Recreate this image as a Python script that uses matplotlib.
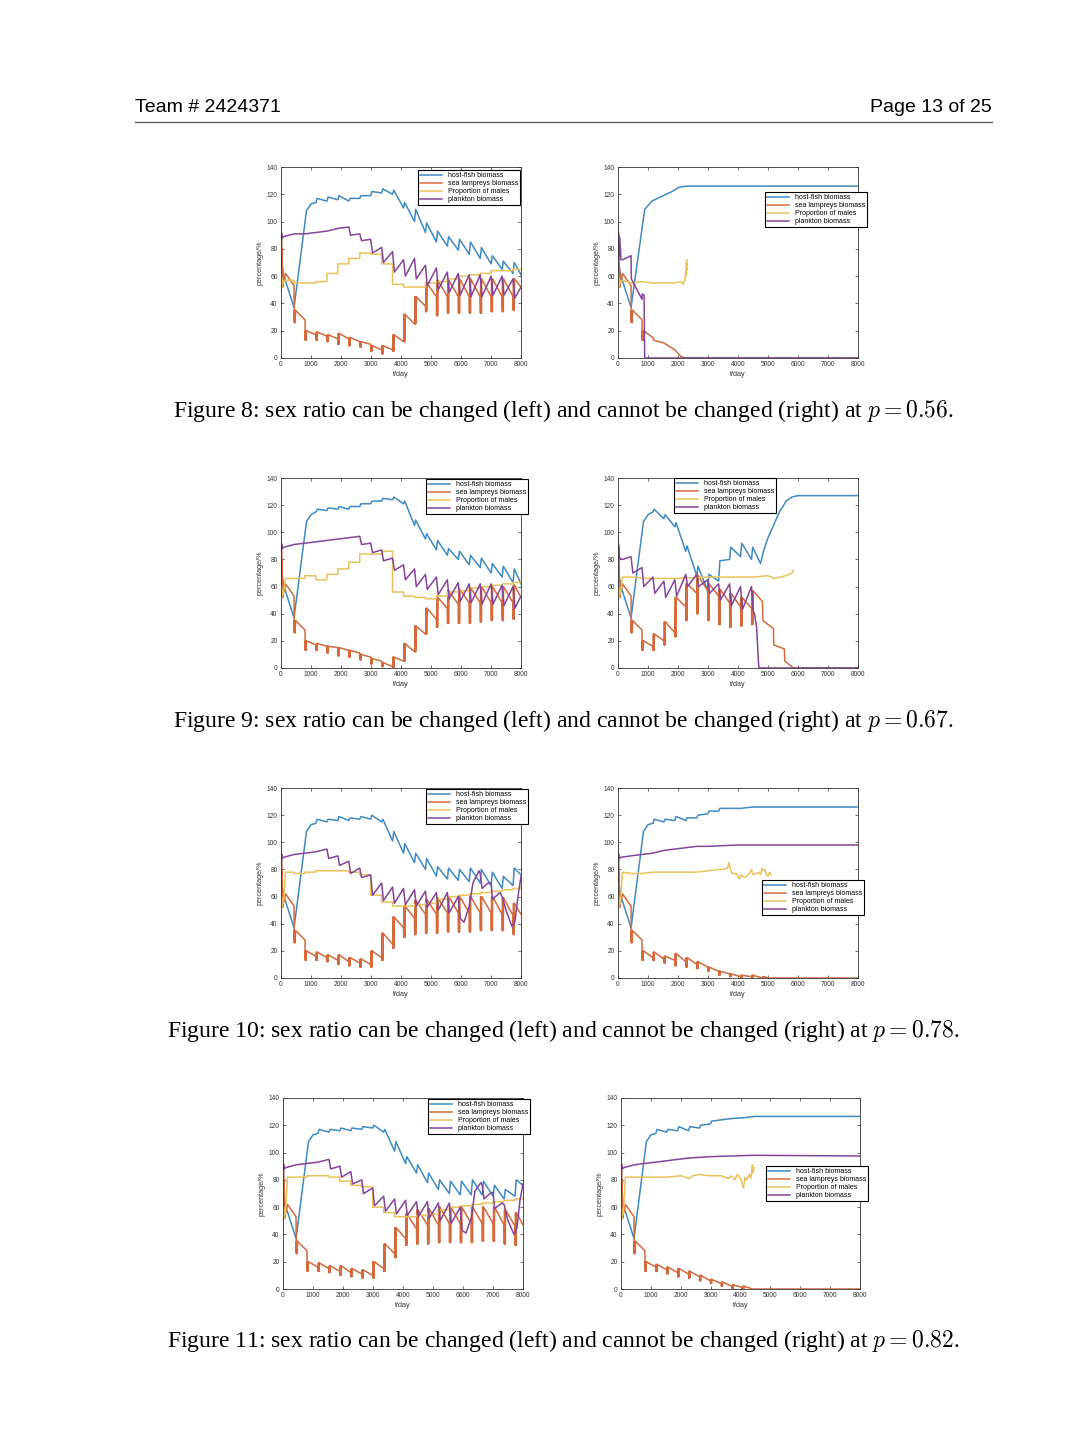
import numpy as np
import matplotlib.pyplot as plt
from matplotlib.lines import Line2D

plt.rcParams['font.family'] = ['Liberation Sans', 'DejaVu Sans']
plt.rcParams['mathtext.fontset'] = 'cm'

# ------------------------------------------------------------------
# values (t in days, values in percent)
# ------------------------------------------------------------------

# days where the yearly teeth sit
MARKS = [435, 800, 1165, 1530, 1895, 2260, 2625, 2990, 3355, 3720, 4085,
         4450, 4815, 5180, 5545, 5910, 6275, 6640, 7005, 7370, 7735]

LABELS = ['host-fish biomass', 'sea lampreys biomass',
          'Proportion of males', 'plankton biomass']
COLORS = ['#3f8ac2', '#d4693c', '#e9c25c', '#84449a']

# first weeks, the same in every run
BLUE_HEAD_T = [0, 25, 70, 435, 850, 1000]
BLUE_HEAD_V = [97, 72, 62, 37, 108, 113]
LAMP_HEAD_T = [0, 8, 16, 24, 32, 40, 50, 60, 75, 100, 150]
LAMP_HEAD_V = [97, 50, 92, 55, 80, 52, 65, 52, 60, 56, 62]
MALE_HEAD_T = [0, 8, 16, 24, 32, 45, 60, 80]
MALE_HEAD_V = [62, 50, 60, 52, 58, 54, 57, 55]
PLANK_HEAD_T = [0, 10, 20, 40, 100]
PLANK_HEAD_V = [90, 86, 91, 88, 89]
# male proportion level days for the left runs (150, MARKS..., 8000)
STEP_T = [150] + MARKS + [8000]

# ---- Figure 8 left ----
a_blue_pre = [114, 115, 116, 115, 117, 119, 121, 120, 110, 100, 92, 85, 82, 79, 76, 73, 69, 65, 62]
a_blue_post = [117, 118, 119, 117, 119, 122, 124, 123, 114, 109, 99, 93, 89, 87, 85, 81, 75, 71, 70]
a_blue_end = 61
a_lamp_pre = [53, 28, 17, 16, 14, 14, 12, 10, 6, 6, 12, 25, 38, 45, 45, 45, 45, 45, 45, 45, 45]
a_lamp_low = [26, 13, 13, 12, 10, 9, 8, 5, 3, 5, 12, 25, 34, 31, 33, 33, 33, 33, 34, 34, 35]
a_lamp_post = [35, 20, 19, 17, 18, 15, 12, 9, 9, 17, 32, 45, 55, 57, 57, 58, 58, 58, 58, 58, 58]
a_lamp_end = 52
a_male = [57, 55, 55, 56, 62, 69, 73, 77, 76, 69, 54, 52, 52, 55, 56, 58, 60, 61, 62, 64, 64, 65, 65]
a_plank_t = [435, 800, 1165, 1530, 1895]
a_plank_v = [91, 91, 92, 93, 95]
a_plank_pre = [96, 91, 87, 81, 78, 72, 73, 68, 66, 63, 62, 61, 61, 60, 60, 58]
a_plank_post = [90, 86, 77, 70, 63, 60, 58, 53, 50, 48, 46, 45, 45, 46, 46, 44]
a_plank_end = 52

# ---- Figure 8 right ----
b_blue_t = [0, 25, 70, 435, 890, 1130, 1410, 1800, 2020, 2250, 8000]
b_blue_v = [97, 72, 62, 37, 109, 115, 118, 122, 125, 126, 126]
b_lamp_pre = [53, 28]
b_lamp_low = [26, 13]
b_lamp_post = [35, 20]
b_lamp_tail_t = [1165, 1200, 1530, 1895, 2100, 2250, 8000]
b_lamp_tail_v = [15, 13, 11, 6, 1, 0, 0]
b_male_t = [150, 435, 800, 1165, 1530, 1895, 2100, 2180, 2230, 2260, 2270, 2280, 2290, 2300]
b_male_v = [57, 55, 56, 55, 55, 55, 56, 54, 58, 63, 60, 70, 64, 72]
b_plank_t = [0, 10, 20, 40, 60, 100, 150, 435, 445, 800, 810, 870, 890, 8000]
b_plank_v = [92, 72, 90, 75, 88, 72, 72, 75, 58, 43, 47, 46, 0, 0]

# ---- Figure 9 left ----
c_blue_pre = [115, 116, 117, 117, 119, 121, 123, 124, 121, 105, 95, 87, 83, 80, 76, 74, 70, 67, 63]
c_blue_post = [117, 118, 119, 119, 121, 123, 125, 126, 123, 109, 99, 94, 88, 86, 83, 81, 77, 75, 73]
c_blue_end = 62
c_lamp_pre = [53, 28, 17, 16, 15, 13, 11, 8, 5, 1, 5, 12, 25, 36, 44, 47, 48, 48, 48, 48, 48]
c_lamp_low = [26, 13, 13, 11, 9, 8, 6, 3, 1, 0, 5, 12, 25, 30, 33, 33, 33, 34, 35, 35, 36]
c_lamp_post = [35, 20, 18, 16, 15, 13, 10, 7, 4, 8, 18, 31, 44, 52, 57, 58, 59, 60, 60, 60, 61]
c_lamp_end = 52
c_male = [66, 66, 68, 65, 69, 73, 78, 84, 84, 86, 56, 53, 52, 51, 53, 56, 57, 59, 60, 61, 62, 63, 64]
c_plank_t = [435, 800, 1165, 1530, 1895, 2260]
c_plank_v = [91, 92, 93, 94, 95, 96]
c_plank_pre = [97, 92, 87, 81, 76, 73, 69, 67, 65, 63, 62, 62, 62, 61, 60]
c_plank_post = [91, 85, 79, 72, 65, 60, 58, 54, 51, 49, 48, 47, 47, 46, 44]
c_plank_end = 53

# ---- Figure 9 right ----
d_blue_t = [0, 25, 70, 435, 850, 1000, 1165, 1205, 1530, 1570, 1895, 1935, 2260, 2300,
            2625, 2665, 2990, 3030, 3355, 3395, 3720, 3760, 4085, 4125, 4450, 4490,
            4750, 4850, 5000, 5200, 5400, 5500, 5600, 5800, 6000, 8000]
d_blue_v = [97, 72, 62, 37, 108, 113, 115, 117, 110, 113, 104, 107, 86, 90,
            68, 75, 57, 69, 64, 79, 80, 89, 82, 92, 80, 89,
            77, 86, 96, 106, 116, 119, 123, 126, 127, 127]
d_lamp_pre = [53, 28, 16, 20, 26, 45, 55, 57, 53, 48, 45, 44]
d_lamp_low = [26, 13, 13, 17, 23, 35, 40, 35, 32, 30, 31, 32]
d_lamp_post = [35, 20, 25, 34, 52, 62, 68, 62, 58, 55, 52, 57]
d_lamp_tail_t = [4815, 4830, 5180, 5195, 5545, 5560, 5850, 8000]
d_lamp_tail_v = [49, 35, 29, 17, 14, 5, 0, 0]
d_male_t = [150, 435, 1000, 2000, 3000, 3500, 4000, 4500, 5000, 5200, 5400, 5600, 5700, 5800, 5850]
d_male_v = [67, 67, 66, 66, 67, 67, 67, 67, 68, 66, 67, 68, 69, 70, 72]
d_plank_t = [0, 10, 20, 40, 100, 150]
d_plank_v = [92, 80, 90, 82, 80, 80]
d_plank_pre = [82, 74, 67, 64, 65, 69, 69, 65, 62, 62, 60, 60]
d_plank_post = [70, 60, 55, 52, 53, 60, 60, 55, 50, 46, 43, 42]
d_plank_tail_t = [4550, 4620, 4680, 4700, 8000]
d_plank_tail_v = [40, 30, 5, 0, 0]

# ---- Figure 10 left ----
e_blue_pre = [114, 115, 116, 116, 117, 117, 115, 101, 92, 85, 80, 75, 73, 72, 71, 70, 68, 66, 68]
e_blue_post = [117, 117, 119, 118, 119, 120, 117, 108, 99, 92, 88, 82, 81, 80, 81, 80, 78, 75, 81]
e_blue_end = 76
e_lamp_pre = [53, 28, 16, 15, 13, 12, 11, 10, 15, 25, 37, 44, 47, 47, 48, 48, 48, 48, 48, 47, 46]
e_lamp_low = [26, 13, 13, 12, 10, 9, 8, 8, 13, 22, 30, 32, 33, 33, 34, 34, 34, 35, 35, 35, 32]
e_lamp_post = [35, 20, 19, 17, 17, 15, 14, 20, 33, 45, 53, 57, 58, 59, 60, 60, 60, 60, 60, 59, 55]
e_lamp_end = 47
e_male = [78, 77, 78, 79, 79, 79, 78, 76, 61, 56, 53, 53, 54, 55, 58, 60, 61, 62, 63, 64, 65, 66, 67]
e_plank_t = [435, 800, 1165]
e_plank_v = [91, 92, 93]
e_plank_pre = [95, 90, 86, 81, 76, 70, 67, 66, 65, 64, 63, 63, 60]
e_plank_post = [88, 83, 77, 74, 61, 57, 55, 54, 53, 52, 50, 48, 44]
e_plank_tail_t = [6100, 6275, 6400, 6600, 6640, 6700, 6900, 7005, 7050, 7300, 7370, 7500, 7700, 7800, 7900, 8000]
e_plank_tail_v = [41, 53, 70, 79, 77, 66, 70, 70, 58, 63, 60, 50, 38, 42, 60, 75]

# ---- Figure 10 right ----
f_blue_t = [0, 25, 70, 435, 850, 1000, 1165, 1205, 1530, 1570, 1895, 1935, 2260, 2300,
            2625, 2665, 2990, 3030, 3355, 3395, 3720, 4085, 4500, 5000, 8000]
f_blue_v = [97, 72, 62, 37, 108, 113, 114, 117, 115, 117, 116, 119, 116, 118,
            118, 120, 121, 123, 123, 125, 125, 125, 126, 126, 126]
f_lamp_pre = [53, 28, 15, 14, 13, 12, 10, 8, 5, 3, 1, 1, 0]
f_lamp_low = [26, 13, 13, 11, 9, 8, 7, 5, 2, 1, 0, 0, 0]
f_lamp_post = [35, 20, 19, 16, 18, 15, 12, 8, 5, 3, 2, 2, 1]
f_lamp_tail_t = [5000, 8000]
f_lamp_tail_v = [0, 0]
f_male_t = [150, 435, 800, 1165, 1600, 2000, 2625, 3000, 3355, 3500, 3650, 3700, 3750, 3800, 3950,
            4050, 4100, 4200, 4300, 4400, 4450, 4500, 4600, 4700, 4750, 4800, 4850, 4900, 4950,
            5000, 5050, 5100]
f_male_v = [78, 77, 77, 78, 78, 78, 78, 79, 80, 80, 81, 85, 80, 77, 77,
            73, 76, 74, 75, 78, 80, 76, 77, 78, 76, 81, 79, 80, 76,
            75, 78, 76]
f_plank_t = [0, 10, 20, 40, 100, 435, 800, 1165, 1530, 1895, 2260, 2625, 3000, 4000, 5000, 8000]
f_plank_v = [90, 86, 91, 88, 89, 90, 91, 92, 94, 95, 96, 97, 97, 98, 98, 98]

# ---- Figure 11 left ----
g_blue_pre = [114, 115, 116, 116, 117, 118, 115, 101, 92, 85, 78, 73, 70, 69, 69, 69, 68, 66, 68]
g_blue_post = [117, 117, 118, 118, 119, 120, 117, 108, 97, 91, 85, 80, 79, 79, 80, 79, 76, 73, 80]
g_blue_end = 76
g_lamp_pre = [53, 28, 16, 15, 13, 12, 11, 10, 15, 26, 37, 44, 47, 47, 48, 48, 48, 48, 48, 47, 46]
g_lamp_low = [26, 13, 13, 12, 10, 9, 8, 8, 13, 23, 32, 33, 33, 34, 34, 34, 34, 35, 35, 33, 32]
g_lamp_post = [35, 20, 19, 17, 17, 15, 14, 20, 33, 45, 55, 58, 59, 60, 60, 60, 60, 60, 60, 58, 56]
g_lamp_end = 47
g_male = [82, 82, 83, 83, 82, 79, 76, 75, 60, 56, 53, 53, 54, 55, 58, 60, 61, 62, 63, 64, 65, 66, 67]
g_plank_t = [435, 800, 1165]
g_plank_v = [91, 92, 93]
g_plank_pre = [95, 90, 86, 80, 74, 68, 66, 65, 64, 64, 63, 63, 60]
g_plank_post = [88, 82, 77, 70, 61, 57, 55, 54, 53, 52, 50, 48, 43]
g_plank_tail_t = [6100, 6275, 6400, 6600, 6640, 6700, 6900, 7005, 7050, 7300, 7370, 7500, 7700, 7800, 7900, 8000]
g_plank_tail_v = [41, 52, 72, 78, 76, 66, 70, 71, 59, 63, 62, 50, 40, 45, 65, 77]

# ---- Figure 11 right ----
h_blue_t = [0, 25, 70, 435, 850, 1000, 1165, 1205, 1530, 1570, 1895, 1935, 2260, 2300,
            2625, 2665, 2990, 3030, 3355, 3720, 4085, 4500, 8000]
h_blue_v = [97, 72, 62, 37, 108, 113, 114, 117, 115, 117, 116, 119, 116, 119,
            118, 120, 121, 123, 124, 125, 125.5, 126.5, 126.5]
h_lamp_pre = [53, 28, 16, 14, 12, 11, 9, 6, 4, 2, 1]
h_lamp_low = [26, 13, 13, 11, 9, 8, 6, 4, 2, 0, 0]
h_lamp_post = [35, 20, 18, 16, 15, 13, 10, 7, 5, 3, 2]
h_lamp_tail_t = [4400, 8000]
h_lamp_tail_v = [0, 0]
h_male_t = [150, 435, 800, 1165, 1530, 2000, 2300, 2400, 2600, 3000, 3355, 3600, 3700, 3800,
            3900, 4000, 4100, 4150, 4200, 4300, 4350, 4400, 4420, 4450]
h_male_v = [82, 82, 82, 82, 82, 83, 81, 83, 84, 83, 83, 81, 83, 80,
            84, 81, 74, 82, 80, 84, 81, 91, 85, 89]
h_plank_t = [0, 10, 20, 40, 100, 435, 800, 1530, 2260, 3000, 4400, 8000]
h_plank_v = [90, 86, 91, 88, 89, 91, 92, 94, 96, 97, 98, 97.5]

CAPTIONS = [
    'Figure 8: sex ratio can be changed (left) and cannot be changed (right) at $p = 0.56$.',
    'Figure 9: sex ratio can be changed (left) and cannot be changed (right) at $p = 0.67$.',
    'Figure 10: sex ratio can be changed (left) and cannot be changed (right) at $p = 0.78$.',
    'Figure 11: sex ratio can be changed (left) and cannot be changed (right) at $p = 0.82$.',
]


# ------------------------------------------------------------------
# helpers that turn the read values into polylines
# ------------------------------------------------------------------
def teeth(marks, pre, post, low=None, lag=40):
    # one tooth per yearly mark: value just before -> value just after
    t, v = [], []
    for i, m in enumerate(marks):
        if low is None:
            t += [m, m + lag]
            v += [pre[i], post[i]]
        else:
            # fast flicker at the mark (drawn as a thick vertical bar)
            t += [m, m + 8, m + 16, m + 24, m + 32, m + 40, m + 48]
            v += [pre[i], low[i], post[i], low[i], post[i], low[i], post[i]]
    return t, v


def stairs(t, v):
    xs, ys = [t[0]], [v[0]]
    for i in range(1, len(t)):
        xs += [t[i], t[i]]
        ys += [v[i - 1], v[i]]
    return xs, ys


def left_run(blue_pre, blue_post, blue_end, lamp_pre, lamp_low, lamp_post, lamp_end,
             male, plank_t, plank_v, plank_marks, plank_pre, plank_post,
             plank_tail_t, plank_tail_v):
    bt, bv = teeth(MARKS[2:], blue_pre, blue_post)
    blue = (BLUE_HEAD_T + bt + [8000], BLUE_HEAD_V + bv + [blue_end])
    lt, lv = teeth(MARKS, lamp_pre, lamp_post, low=lamp_low)
    lamp = (LAMP_HEAD_T + lt + [8000], LAMP_HEAD_V + lv + [lamp_end])
    st, sv = stairs(STEP_T, male)
    males = (MALE_HEAD_T + st, MALE_HEAD_V + sv)
    pt, pv = teeth(plank_marks, plank_pre, plank_post, lag=60)
    plank = (PLANK_HEAD_T + plank_t + pt + list(plank_tail_t),
             PLANK_HEAD_V + plank_v + pv + list(plank_tail_v))
    return [blue, lamp, males, plank]


panels = []
panels.append(left_run(a_blue_pre, a_blue_post, a_blue_end, a_lamp_pre, a_lamp_low, a_lamp_post,
                       a_lamp_end, a_male, a_plank_t, a_plank_v, MARKS[5:], a_plank_pre,
                       a_plank_post, [8000], [a_plank_end]))
lt, lv = teeth(MARKS[:2], b_lamp_pre, b_lamp_post, low=b_lamp_low)
panels.append([(b_blue_t, b_blue_v),
               (LAMP_HEAD_T + lt + b_lamp_tail_t, LAMP_HEAD_V + lv + b_lamp_tail_v),
               (MALE_HEAD_T + b_male_t, MALE_HEAD_V + b_male_v),
               (b_plank_t, b_plank_v)])
panels.append(left_run(c_blue_pre, c_blue_post, c_blue_end, c_lamp_pre, c_lamp_low, c_lamp_post,
                       c_lamp_end, c_male, c_plank_t, c_plank_v, MARKS[6:], c_plank_pre,
                       c_plank_post, [8000], [c_plank_end]))
lt, lv = teeth(MARKS[:12], d_lamp_pre, d_lamp_post, low=d_lamp_low)
pt, pv = teeth(MARKS[:12], d_plank_pre, d_plank_post, lag=60)
panels.append([(d_blue_t, d_blue_v),
               (LAMP_HEAD_T + lt + d_lamp_tail_t, LAMP_HEAD_V + lv + d_lamp_tail_v),
               (MALE_HEAD_T + d_male_t, MALE_HEAD_V + d_male_v),
               (d_plank_t + pt + d_plank_tail_t, d_plank_v + pv + d_plank_tail_v)])
panels.append(left_run(e_blue_pre, e_blue_post, e_blue_end, e_lamp_pre, e_lamp_low, e_lamp_post,
                       e_lamp_end, e_male, e_plank_t, e_plank_v, MARKS[3:16], e_plank_pre,
                       e_plank_post, e_plank_tail_t, e_plank_tail_v))
lt, lv = teeth(MARKS[:13], f_lamp_pre, f_lamp_post, low=f_lamp_low)
panels.append([(f_blue_t, f_blue_v),
               (LAMP_HEAD_T + lt + f_lamp_tail_t, LAMP_HEAD_V + lv + f_lamp_tail_v),
               (MALE_HEAD_T + f_male_t, MALE_HEAD_V + f_male_v),
               (f_plank_t, f_plank_v)])
panels.append(left_run(g_blue_pre, g_blue_post, g_blue_end, g_lamp_pre, g_lamp_low, g_lamp_post,
                       g_lamp_end, g_male, g_plank_t, g_plank_v, MARKS[3:16], g_plank_pre,
                       g_plank_post, g_plank_tail_t, g_plank_tail_v))
lt, lv = teeth(MARKS[:11], h_lamp_pre, h_lamp_post, low=h_lamp_low)
panels.append([(h_blue_t, h_blue_v),
               (LAMP_HEAD_T + lt + h_lamp_tail_t, LAMP_HEAD_V + lv + h_lamp_tail_v),
               (MALE_HEAD_T + h_male_t, MALE_HEAD_V + h_male_v),
               (h_plank_t, h_plank_v)])

# ------------------------------------------------------------------
# page layout (pixel boxes on the 1080x1440 page)
# ------------------------------------------------------------------
W, H = 1080, 1440
AX_BOX = [(281, 167, 521, 358), (618, 167, 858, 358),
          (281, 478, 521, 668), (618, 478, 858, 668),
          (281, 788, 521, 978), (618, 788, 858, 978),
          (283, 1098, 523, 1289), (621, 1098, 860, 1289)]
LEG_AT = [(418, 170), (765, 192), (426, 479), (674, 478),
          (426, 789), (762, 880), (428, 1099), (766, 1166)]
CAP_Y = [411, 721, 1031, 1341]

fig = plt.figure(figsize=(W / 100, H / 100), dpi=100)
fig.patch.set_facecolor('white')

fig.text(135 / W, 1 - 108 / H, 'Team # 2424371', fontsize=14, ha='left', va='center')
fig.text(992 / W, 1 - 108 / H, 'Page 13 of 25', fontsize=14, ha='right', va='center')
fig.add_artist(Line2D([135 / W, 992 / W], [1 - 122 / H, 1 - 122 / H], color='#555555', lw=0.9))

for k, series in enumerate(panels):
    x0, y0, x1, y1 = AX_BOX[k]
    ax = fig.add_axes([x0 / W, 1 - y1 / H, (x1 - x0) / W, (y1 - y0) / H])
    handles = []
    for (t, v), c in zip(series, COLORS):
        h, = ax.plot(t, v, color=c, lw=1.1)
        handles.append(h)
    ax.set_xlim(0, 8000)
    ax.set_ylim(0, 140)
    ax.set_xticks(np.arange(0, 8001, 1000))
    ax.set_yticks(np.arange(0, 141, 20))
    ax.tick_params(direction='in', length=2.5, width=0.5, labelsize=4.8,
                   colors='#333333', top=True, right=True, pad=2.5)
    for s in ax.spines.values():
        s.set_linewidth(0.6)
        s.set_color('#333333')
    ax.set_xlabel('t/day', fontsize=5.2, labelpad=1.5, color='#333333')
    ax.set_ylabel('percentage/%', fontsize=5.2, labelpad=2, color='#333333')
    lx, ly = LEG_AT[k]
    leg = ax.legend(handles, LABELS, loc='upper left', bbox_to_anchor=(lx / W, 1 - ly / H),
                    bbox_transform=fig.transFigure, fontsize=5.0, frameon=True,
                    fancybox=False, edgecolor='black', framealpha=1, borderpad=0.3,
                    labelspacing=0.15, handlelength=3.2, handletextpad=0.8, borderaxespad=0)
    leg.get_frame().set_linewidth(0.8)

for i, cap in enumerate(CAPTIONS):
    fig.text(563 / W, 1 - CAP_Y[i] / H, cap, fontsize=17, ha='center', va='center',
             family='Liberation Serif')

fig.savefig('out.png', dpi=100, facecolor='white')
